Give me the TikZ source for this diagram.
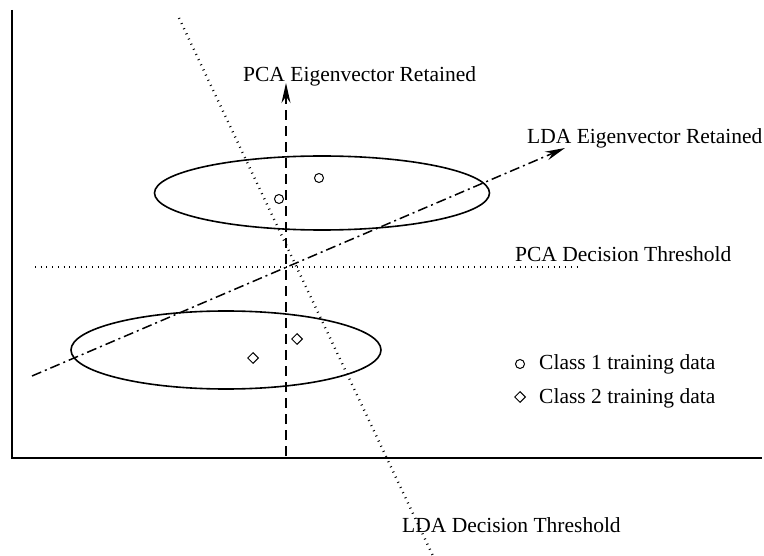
\documentclass[tikz,border=0pt]{standalone}
\usepackage{fontspec}
\setmainfont{Liberation Serif}
\usetikzlibrary{arrows.meta,shapes.geometric}
\tikzset{
  lbl/.style={font=\fontsize{21.5}{25}\selectfont, inner sep=0pt, anchor=base west},
  axis/.style={line width=2pt},
  cluster/.style={line width=1.6pt},
  pcavec/.style={line width=1.8pt, dash pattern=on 10pt off 6pt, -{Stealth[length=20pt,width=9pt]}},
  ldavec/.style={line width=1.5pt, dash pattern=on 10pt off 4pt on 2pt off 4pt, -{Stealth[length=20pt,width=9pt]}},
  thresh/.style={line width=2.4pt, dash pattern=on 0.9pt off 4.8pt},
  cls1/.style={circle, draw, line width=1pt, minimum size=9pt, inner sep=0pt},
  cls2/.style={diamond, draw, line width=1pt, minimum size=11pt, inner sep=0pt},
}
\begin{document}
\begin{tikzpicture}[x=1pt, y=-1pt]
  \useasboundingbox (0,0) rectangle (764,556);
  % axes
  \coordinate (ytop) at (12,10);
  \coordinate (origin) at (12,458);
  \coordinate (xend) at (762,458);
  \draw[axis] (ytop) -- (origin) -- (xend);
  % class clusters
  \draw[cluster] (322,193) ellipse [x radius=167.5, y radius=37];
  \draw[cluster] (226,350) ellipse [x radius=155, y radius=39];
  % PCA decision threshold
  \coordinate (pcat1) at (35,267);
  \coordinate (pcat2) at (580,267);
  \draw[thresh] (pcat1) -- (pcat2);
  \node[lbl] (pcatl) at (515,262) {PCA Decision Threshold};
  % LDA decision threshold
  \coordinate (ldat1) at (179,18);
  \coordinate (ldat2) at (433,556);
  \draw[thresh] (ldat1) -- (ldat2);
  \node[lbl] (ldatl) at (402,532) {LDA Decision Threshold};
  % PCA eigenvector
  \coordinate (pca0) at (286,456);
  \coordinate (pca1) at (286,83);
  \draw[pcavec] (pca0) -- (pca1);
  \node[lbl] (pcal) at (243,82) {PCA Eigenvector Retained};
  % LDA eigenvector
  \coordinate (lda0) at (32,376);
  \coordinate (lda1) at (565,148);
  \draw[ldavec] (lda0) -- (lda1);
  \node[lbl] (ldal) at (527,144) {LDA Eigenvector Retained};
  % training samples
  \node[cls1] (c1a) at (319,178) {};
  \node[cls1] (c1b) at (279,199) {};
  \node[cls2] (c2a) at (297,339) {};
  \node[cls2] (c2b) at (253,358) {};
  % legend
  \node[cls1] (leg1) at (520,364) {};
  \node[lbl] (leg1t) at (539,370) {Class 1 training data};
  \node[cls2] (leg2) at (520,397) {};
  \node[lbl] (leg2t) at (539,403) {Class 2 training data};
\end{tikzpicture}
\end{document}
